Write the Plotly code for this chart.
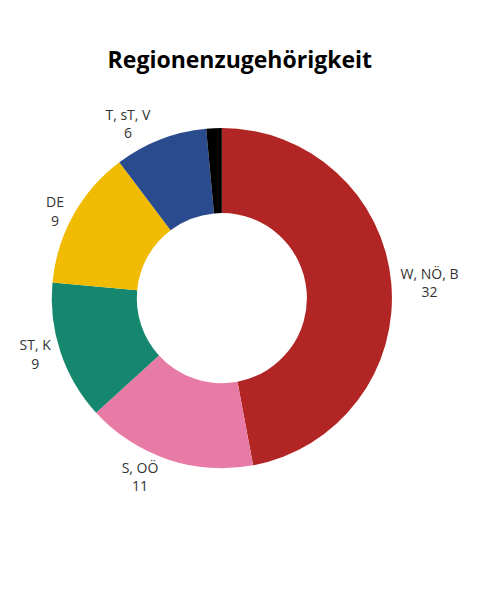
import plotly.graph_objects as go

labels = ["W, NÖ, B", "S, OÖ", "ST, K", "DE", "T, sT, V", "Sonstige"]
values = [32, 11, 9, 9, 6, 1]
colors = ["#B22525", "#E87AA6", "#15876E", "#F0BB00", "#2A4B8D", "#000000"]
show_label = [True, True, True, True, True, False]

texts = [f"{l}<br>{v}" if s else "" for l, v, s in zip(labels, values, show_label)]

fig = go.Figure(go.Pie(
    labels=labels,
    values=values,
    text=texts,
    textinfo="text",
    textposition="outside",
    hole=0.5,
    sort=False,
    direction="clockwise",
    rotation=0,
    marker=dict(colors=colors, line=dict(width=0)),
    textfont=dict(family="Open Sans", size=14, color="#333333"),
    showlegend=False,
    domain=dict(x=[0.091, 0.800], y=[0.233, 0.800]),
))

fig.update_layout(
    width=480, height=600,
    paper_bgcolor="white", plot_bgcolor="white",
    title=dict(text="<b>Regionenzugehörigkeit</b>", x=0.483, xanchor="center",
               y=0.913, yanchor="middle",
               font=dict(family="Open Sans", size=23, color="#000000")),
    margin=dict(l=0, r=0, t=0, b=0),
)

fig.write_html("out.html")
